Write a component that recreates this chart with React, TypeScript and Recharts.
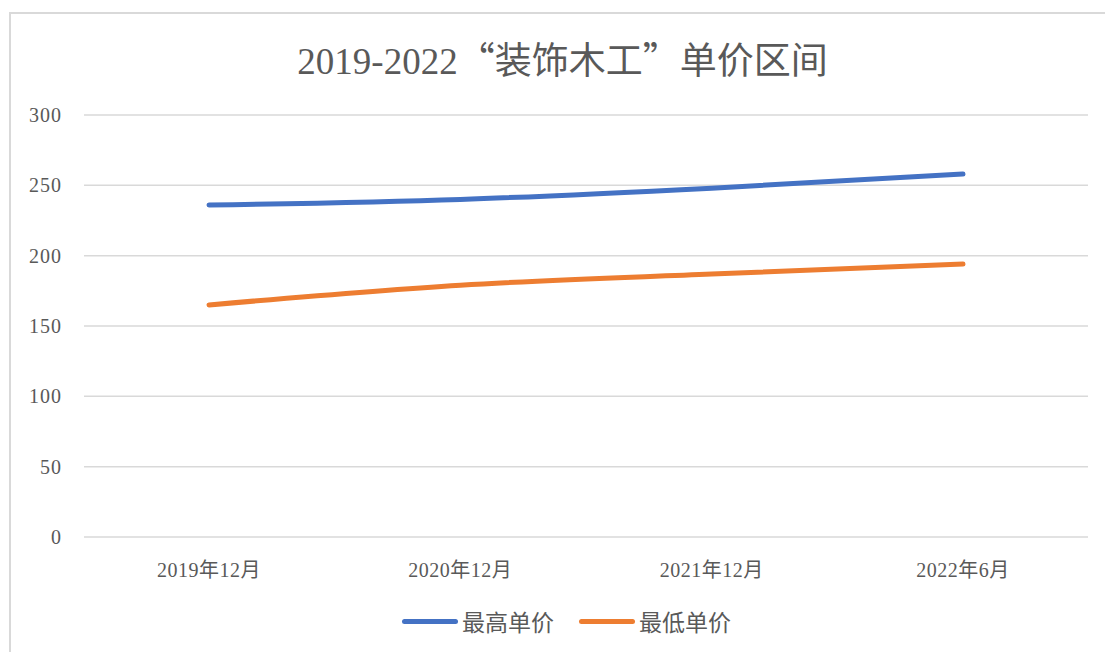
import { LineChart, Line, XAxis, YAxis, CartesianGrid } from "recharts";

const months = ["2019年12月", "2020年12月", "2021年12月", "2022年6月"];
const highPrice = [236, 240, 248, 258];
const lowPrice = [165, 179, 187, 194];
const yTicks = [0, 50, 100, 150, 200, 250, 300];
const seriesNames = ["最高单价", "最低单价"];
const seriesColors = ["#4472C4", "#ED7D31"];

const data = months.map((m, i) => ({ month: m, high: highPrice[i], low: lowPrice[i] }));

const FONT = '"Liberation Serif", "Noto Sans CJK SC", serif';
const CJK = '"Noto Sans CJK SC", sans-serif';

export default function App() {
  return (
    <div style={{ position: "absolute", left: 0, top: 0, width: 1105, height: 652, background: "#fff", overflow: "hidden" }}>
      <div style={{ position: "absolute", left: 9, top: 12, width: 1200, height: 800, border: "2px solid #d9d9d9" }} />
      <div style={{ position: "absolute", left: 0, top: 31, width: 1125, textAlign: "center", fontFamily: FONT, fontSize: 37, color: "#595959" }}>
        2019-2022<span style={{ fontFamily: CJK }}>“装饰木工”单价区间</span>
      </div>
      <div style={{ position: "absolute", left: 0, top: 0 }}>
        <LineChart width={1105} height={652} data={data} margin={{ top: 115, right: 17, bottom: 85, left: 0 }}>
          <CartesianGrid vertical={false} stroke="#d9d9d9" strokeWidth={1.5} />
          <XAxis
            dataKey="month"
            height={30}
            axisLine={false}
            tickLine={false}
            padding={{ left: 125, right: 125 }}
            tick={{ fill: "#595959", fontSize: 20, fontFamily: FONT, letterSpacing: 0.5 }}
            tickMargin={20}
            interval={0}
          />
          <YAxis
            domain={[0, 300]}
            ticks={yTicks}
            width={84}
            axisLine={false}
            tickLine={false}
            tickMargin={16}
            tick={{ fill: "#595959", fontSize: 20, fontFamily: FONT, letterSpacing: 1 }}
          />
          <Line type="monotone" dataKey="high" name={seriesNames[0]} stroke={seriesColors[0]} strokeWidth={5} strokeLinecap="round" dot={false} isAnimationActive={false} />
          <Line type="monotone" dataKey="low" name={seriesNames[1]} stroke={seriesColors[1]} strokeWidth={5} strokeLinecap="round" dot={false} isAnimationActive={false} />
        </LineChart>
      </div>
      <div style={{ position: "absolute", left: 0, top: 604, width: 1133, display: "flex", justifyContent: "center", gap: 25, fontFamily: FONT, fontSize: 23, color: "#595959" }}>
        {seriesNames.map((n, i) => (
          <div key={n} style={{ display: "flex", alignItems: "center" }}>
            <span style={{ display: "inline-block", width: 56, height: 5, borderRadius: 3, background: seriesColors[i], marginRight: 4 }} />
            <span>{n}</span>
          </div>
        ))}
      </div>
    </div>
  );
}
